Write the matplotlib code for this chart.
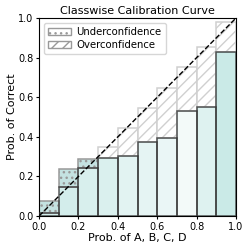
import numpy as np
import matplotlib
matplotlib.use("Agg")
import matplotlib.pyplot as plt
from matplotlib.patches import Patch

# bin edges and per-bin values
bins = np.linspace(0, 1, 11)
confidence = [0.014, 0.145, 0.244, 0.347, 0.446, 0.547, 0.645, 0.754, 0.855, 0.981]
accuracy = [0.077, 0.236, 0.290, 0.293, 0.305, 0.375, 0.395, 0.530, 0.549, 0.827]
# relative bin weight (drives the fill shade)
weight = [0.55, 0.55, 0.48, 0.45, 0.36, 0.32, 0.25, 0.15, 0.40, 0.65]

fig = plt.figure(figsize=(2.49, 2.5), dpi=100)
ax = fig.add_axes([0.157, 0.136, 0.791, 0.792])

left = bins[:-1]
w = bins[1] - bins[0]
base = "#4db8b0"

for i in range(len(left)):
    lo = min(confidence[i], accuracy[i])
    hi = max(confidence[i], accuracy[i])
    ax.bar(left[i], lo, width=w, align="edge", color=base, alpha=weight[i] * 0.45,
           edgecolor="none", zorder=2)
    ax.bar(left[i], lo, width=w, align="edge", fill=False, edgecolor="#333333",
           linewidth=1.1, alpha=0.8, zorder=3)
    if accuracy[i] > confidence[i]:
        ax.bar(left[i], hi - lo, bottom=lo, width=w, align="edge", color="#c4e2e1",
               edgecolor="#999999", hatch="...", linewidth=1.1, zorder=2)
    else:
        ax.bar(left[i], hi - lo, bottom=lo, width=w, align="edge", color="white",
               edgecolor="#d0d0d0", hatch="///", linewidth=1.1, zorder=1)

ax.plot([0, 1], [0, 1], "k--", linewidth=1, zorder=4)

ax.set_xlim(0, 1)
ax.set_ylim(0, 1)
ax.set_xticks(np.arange(0, 1.01, 0.2))
ax.set_yticks(np.arange(0, 1.01, 0.2))
ax.tick_params(labelsize=7, length=2.5, pad=1.5)
ax.set_title("Classwise Calibration Curve", fontsize=8, pad=3)
ax.set_xlabel("Prob. of A, B, C, D", fontsize=8, labelpad=1)
ax.set_ylabel("Prob. of Correct", fontsize=8, labelpad=1)

handles = [Patch(facecolor="white", edgecolor="#999999", hatch="...", label="Underconfidence"),
           Patch(facecolor="white", edgecolor="#999999", hatch="///", label="Overconfidence")]
ax.legend(handles=handles, loc="upper left", fontsize=7.3, handlelength=2.2,
          borderpad=0.4, labelspacing=0.3, handletextpad=0.6)

fig.savefig("out.png", dpi=100)
